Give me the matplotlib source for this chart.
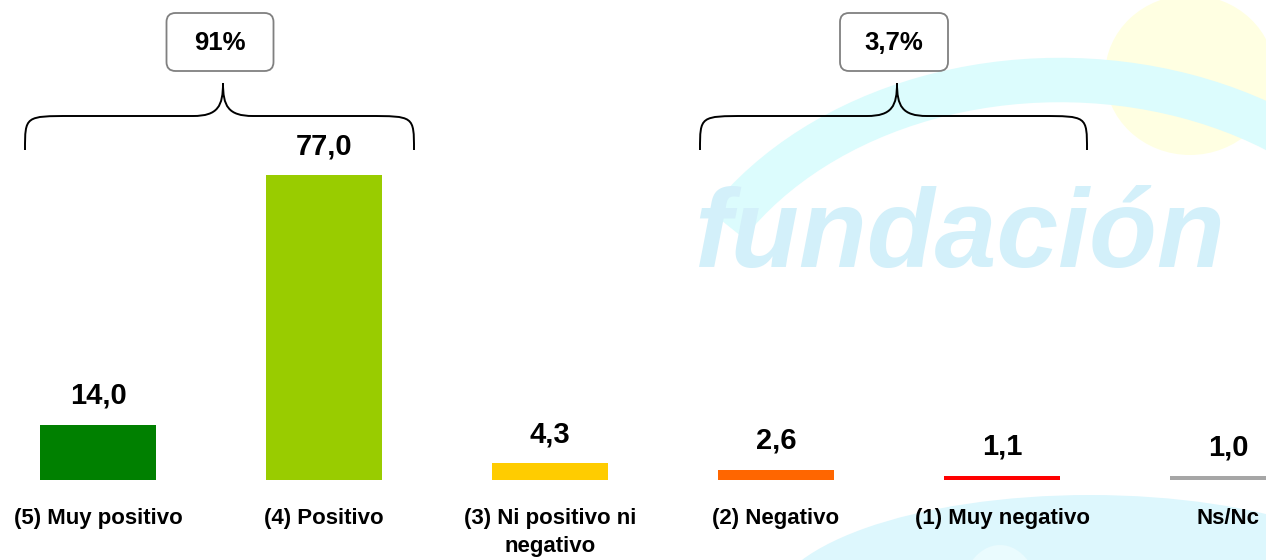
import matplotlib
matplotlib.use("Agg")
import matplotlib.pyplot as plt
from matplotlib.patches import FancyBboxPatch, PathPatch, Ellipse, Arc
from matplotlib.path import Path

plt.rcParams['font.family'] = ['Liberation Sans', 'DejaVu Sans']

categories = ["(5) Muy positivo", "(4) Positivo", "(3) Ni positivo ni\nnegativo",
              "(2) Negativo", "(1) Muy negativo", "Ns/Nc"]
values = [14.0, 77.0, 4.3, 2.6, 1.1, 1.0]
value_labels = ["14,0", "77,0", "4,3", "2,6", "1,1", "1,0"]
colors = ["#008000", "#99CC00", "#FFCC00", "#FF6600", "#FF0000", "#A6A6A6"]
group_labels = ["91%", "3,7%"]

W, H = 1266, 560
fig = plt.figure(figsize=(W / 100, H / 100), dpi=100)
fig.patch.set_facecolor("white")

# ---- background watermark (pixel coordinates) ----
bg = fig.add_axes([0, 0, 1, 1], zorder=0)
bg.set_xlim(0, W)
bg.set_ylim(H, 0)
bg.axis("off")
bg.add_patch(Ellipse((1190, 75), 170, 160, color="#FFFFE2", lw=0))
bg.add_patch(Arc((1060, 380), 780, 600, theta1=205, theta2=365,
                 color="#DCFCFD", lw=32))
bg.add_patch(Ellipse((1090, 610), 640, 230, color="#DDF7FD", lw=0))
bg.add_patch(Ellipse((1000, 600), 80, 110, color="#EAFBFE", lw=0))
bg.text(960, 238, "fundación", fontsize=80, fontstyle="italic", fontweight="bold",
        color="#D3F0FA", ha="center", va="center")

# ---- bars ----
ax = fig.add_axes([0, 0, 1, 1], zorder=1)
ax.patch.set_alpha(0)
x = list(range(len(values)))
ax.bar(x, values, width=0.515, color=colors)
ax.set_xlim(-0.434, 5.168)
ax.set_ylim(-20.2, 121.2)
ax.axis("off")

for xi, v, lab in zip(x, values, value_labels):
    ax.annotate(lab, (xi, v), xytext=(0, 15), textcoords="offset points",
                ha="center", va="baseline", fontsize=21, fontweight="bold")
for xi, cat in zip(x, categories):
    ax.text(xi, -7.0, cat, ha="center", va="top", fontsize=16,
            fontweight="bold", linespacing=1.45)

# ---- braces and group boxes (pixel coordinates) ----
ov = fig.add_axes([0, 0, 1, 1], zorder=2)
ov.patch.set_alpha(0)
ov.set_xlim(0, W)
ov.set_ylim(H, 0)
ov.axis("off")


def brace(x0, x1, xt, y_end=150, y_flat=116, y_tip=83):
    r = 33
    verts = [(x0, y_end),
             (x0, y_flat), (x0, y_flat), (x0 + r * 1.4, y_flat),
             (xt - 30, y_flat),
             (xt - 5, y_flat), (xt, y_flat - 10), (xt, y_tip),
             (xt, y_flat - 10), (xt + 5, y_flat), (xt + 30, y_flat),
             (x1 - r * 1.4, y_flat),
             (x1, y_flat), (x1, y_flat), (x1, y_end)]
    codes = [Path.MOVETO,
             Path.CURVE4, Path.CURVE4, Path.CURVE4,
             Path.LINETO,
             Path.CURVE4, Path.CURVE4, Path.CURVE4,
             Path.CURVE4, Path.CURVE4, Path.CURVE4,
             Path.LINETO,
             Path.CURVE4, Path.CURVE4, Path.CURVE4]
    ov.add_patch(PathPatch(Path(verts, codes), fill=False, lw=1.4, ec="black"))


def box(cx, w, text):
    ov.add_patch(FancyBboxPatch((cx - w / 2, 13), w, 58,
                                boxstyle="round,pad=0,rounding_size=9",
                                fc="white", ec="#808080", lw=1.3))
    ov.text(cx, 43, text, ha="center", va="center", fontsize=18.5,
            fontweight="bold")


brace(25, 414, 223)
brace(700, 1087, 897)
box(220, 107, group_labels[0])
box(894, 108, group_labels[1])

fig.savefig("out.png", dpi=100, facecolor="white")
